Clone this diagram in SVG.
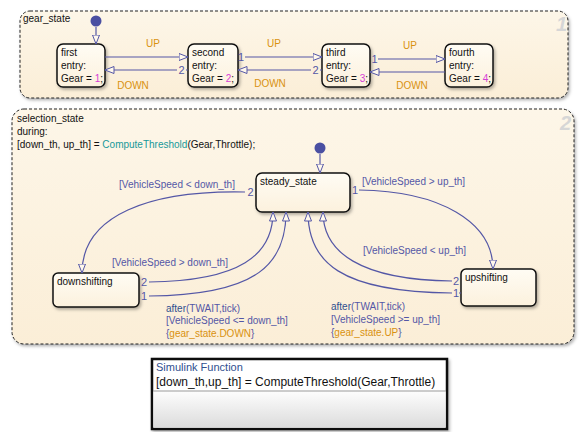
<svg xmlns="http://www.w3.org/2000/svg" width="585" height="432" viewBox="0 0 585 432">
<defs>
<linearGradient id="chartBg" x1="0" y1="0" x2="0" y2="1"><stop offset="0" stop-color="#fdf6e8"/><stop offset="1" stop-color="#fbeed7"/></linearGradient>
<linearGradient id="stateBg" x1="0" y1="0" x2="0" y2="1"><stop offset="0" stop-color="#fffcf4"/><stop offset="1" stop-color="#fcf1dd"/></linearGradient>
<linearGradient id="fnBg" x1="0" y1="0" x2="0" y2="1"><stop offset="0" stop-color="#fdfdfd"/><stop offset="1" stop-color="#dcdcdc"/></linearGradient>
<filter id="sh" x="-10%" y="-10%" width="130%" height="140%"><feDropShadow dx="1.5" dy="2" stdDeviation="1.5" flood-color="#000" flood-opacity="0.3"/></filter>
<marker id="ah" viewBox="0 0 10 8" refX="9.5" refY="4" markerWidth="10" markerHeight="8" markerUnits="userSpaceOnUse" orient="auto"><path d="M0.5,0.5 L9.5,4 L0.5,7.5 z" fill="#fff8ec" stroke="#5457a6" stroke-width="1"/></marker>
</defs>
<style>
text{font-family:"Liberation Sans",Arial,sans-serif;font-size:10px;fill:#111}
.chart{fill:url(#chartBg);stroke:#222;stroke-width:1;stroke-dasharray:3,2}
.state{fill:url(#stateBg);stroke:#111;stroke-width:1.5}
.tr{fill:none;stroke:#5457a6;stroke-width:1.2}
.arr{marker-end:url(#ah)}
.lbl{fill:#5457a6}
.ev{fill:#d9910f}
.num{fill:#d63cd6}
.fn{fill:#17999a}
.kw{fill:#2f4f8f}
.wm{font-size:20px;font-weight:bold;font-style:italic;fill:#d6d6d6}
.idx{fill:#5457a6;font-size:11px}
.dot{fill:#4a4fa2}
</style>

<g id="gear_state">
<rect class="chart" x="20" y="11" width="548" height="87" rx="10" filter="url(#sh)"/>
<text x="23" y="22">gear_state</text>
<text class="wm" x="556" y="31">1</text>
</g>

<g id="first">
<rect class="state" x="57" y="44" width="48" height="43" rx="6" filter="url(#sh)"/>
<text x="61" y="56">first</text><text x="61" y="69">entry:</text>
<text x="61" y="82">Gear = <tspan class="num">1</tspan>;</text>
</g>
<g id="second">
<rect class="state" x="188" y="44" width="50" height="43" rx="6" filter="url(#sh)"/>
<text x="192" y="56">second</text><text x="192" y="69">entry:</text>
<text x="192" y="82">Gear = <tspan class="num">2</tspan>;</text>
</g>
<g id="third">
<rect class="state" x="322" y="44" width="48" height="43" rx="6" filter="url(#sh)"/>
<text x="326" y="56">third</text><text x="326" y="69">entry:</text>
<text x="326" y="82">Gear = <tspan class="num">3</tspan>;</text>
</g>
<g id="fourth">
<rect class="state" x="445" y="44" width="48" height="43" rx="6" filter="url(#sh)"/>
<text x="449" y="56">fourth</text><text x="449" y="69">entry:</text>
<text x="449" y="82">Gear = <tspan class="num">4</tspan>;</text>
</g>

<g id="selection_state">
<rect class="chart" x="12" y="109" width="562" height="235" rx="12" filter="url(#sh)"/>
<text x="17" y="122">selection_state</text>
<text x="17" y="135">during:</text>
<text x="17" y="148">[down_th, up_th] = <tspan class="fn">ComputeThreshold</tspan>(Gear,Throttle);</text>
<text class="wm" x="560" y="130">2</text>
</g>

<g id="steady_state">
<rect class="state" x="256" y="173" width="94" height="39" rx="6" filter="url(#sh)"/>
<text x="260" y="185">steady_state</text>
</g>
<g id="downshifting">
<rect class="state" x="53" y="273" width="86" height="34" rx="5" filter="url(#sh)"/>
<text x="57" y="285">downshifting</text>
</g>
<g id="upshifting">
<rect class="state" x="461" y="269" width="75" height="37" rx="5" filter="url(#sh)"/>
<text x="465" y="281">upshifting</text>
</g>

<g id="simulink_function">
<rect x="152" y="359" width="295" height="70" fill="#ffffff" stroke="#111" stroke-width="2.5" filter="url(#sh)"/>
<rect x="153.5" y="391" width="292" height="36.5" fill="url(#fnBg)"/>
<line x1="153" y1="391" x2="446" y2="391" stroke="#999" stroke-width="1"/>
<text x="156" y="371" style="font-size:11px;fill:#2f4f8f">Simulink Function</text>
<text x="156" y="386" style="font-size:12px">[down_th,up_th] = ComputeThreshold(Gear,Throttle)</text>
</g>

<g id="connectors">
<circle class="dot" cx="96" cy="21" r="5.5"/>
<path class="tr arr" d="M96,27 L96,44"/>
<circle class="dot" cx="320" cy="148" r="5.5"/>
<path class="tr arr" d="M320,154 L320,173"/>

<path class="tr arr" d="M105,57 L188,57"/>
<text class="ev" x="153" y="47" text-anchor="middle">UP</text>
<path class="tr" d="M188,70 L186,70"/>
<path class="tr arr" d="M177,70 L105,70"/>
<text class="idx" x="181.5" y="74" text-anchor="middle">2</text>
<text class="ev" x="133" y="89" text-anchor="middle">DOWN</text>

<path class="tr arr" d="M245,57 L322,57"/>
<text class="idx" x="241" y="61" text-anchor="middle">1</text>
<text class="ev" x="274" y="47" text-anchor="middle">UP</text>
<path class="tr" d="M322,70 L320,70"/>
<path class="tr arr" d="M311,70 L238,70"/>
<text class="idx" x="315.5" y="74" text-anchor="middle">2</text>
<text class="ev" x="270" y="87" text-anchor="middle">DOWN</text>

<path class="tr arr" d="M378,59 L445,59"/>
<text class="idx" x="374.5" y="63" text-anchor="middle">1</text>
<text class="ev" x="410" y="49" text-anchor="middle">UP</text>
<path class="tr arr" d="M445,72 L370,72"/>
<text class="ev" x="412" y="89" text-anchor="middle">DOWN</text>

<path class="tr arr" d="M245,192 C150,190 82,215 82,273"/>
<text class="idx" x="250.5" y="196" text-anchor="middle">2</text>
<text class="lbl" x="119" y="188">[VehicleSpeed &lt; down_th]</text>

<path class="tr arr" d="M359,190 C440,191 493,222 493,269"/>
<text class="idx" x="355" y="194" text-anchor="middle">1</text>
<text class="lbl" x="362" y="185">[VehicleSpeed &gt; up_th]</text>

<path class="tr arr" d="M149,282 C240,281 273,255 273,212"/>
<text class="idx" x="144" y="286" text-anchor="middle">2</text>
<path class="tr arr" d="M149,296 C260,295 286,262 286,212"/>
<text class="idx" x="144" y="300" text-anchor="middle">1</text>
<text class="lbl" x="112" y="266">[VehicleSpeed &gt; down_th]</text>
<text x="166" y="312"><tspan class="kw">after</tspan><tspan class="lbl">(TWAIT,tick)</tspan></text>
<text class="lbl" x="166" y="324">[VehicleSpeed &lt;= down_th]</text>
<text class="lbl" x="166" y="337">{<tspan class="ev">gear_state.DOWN</tspan>}</text>

<path class="tr arr" d="M452,281 C360,280 323,252 323,212"/>
<text class="idx" x="456" y="285" text-anchor="middle">2</text>
<path class="tr arr" d="M452,293 C340,292 308,262 308,212"/>
<text class="idx" x="456" y="297" text-anchor="middle">1</text>
<path class="tr" d="M459,293 L461,293"/>
<text class="lbl" x="363" y="254">[VehicleSpeed &lt; up_th]</text>
<text x="331" y="310"><tspan class="kw">after</tspan><tspan class="lbl">(TWAIT,tick)</tspan></text>
<text class="lbl" x="331" y="323">[VehicleSpeed &gt;= up_th]</text>
<text class="lbl" x="331" y="336">{<tspan class="ev">gear_state.UP</tspan>}</text>
</g>
</svg>
